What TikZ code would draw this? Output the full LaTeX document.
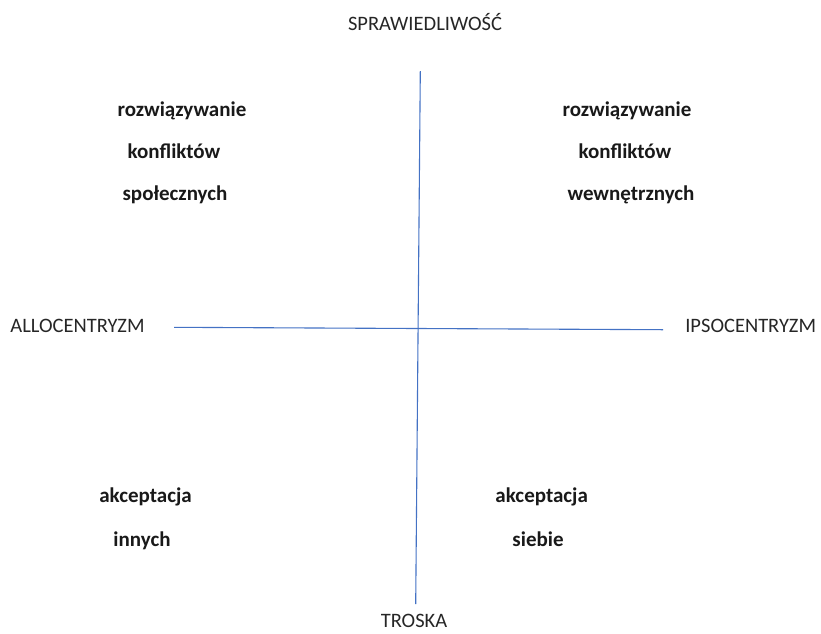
\documentclass[tikz,border=0pt]{standalone}
\usepackage{fontspec}
\setmainfont{Carlito}
\usepackage{xcolor}
\usetikzlibrary{positioning}
\definecolor{axisblue}{RGB}{68,114,196}
\definecolor{polegray}{RGB}{38,38,38}

\begin{document}
\begin{tikzpicture}[x=1pt, y=-1pt,
  axis/.style={draw=axisblue, line width=1.1pt},
  pole/.style={anchor=base, inner sep=0pt, text=polegray, font=\fontsize{20.5}{24}\selectfont},
  word/.style={anchor=base, inner sep=0pt, text=black!90, font=\bfseries\fontsize{21}{25}\selectfont}
]
\useasboundingbox (0,0) rectangle (821,633);
% axes
\coordinate (top) at (420.3,71);
\coordinate (bottom) at (415.7,604);
\coordinate (left) at (174,327.3);
\coordinate (right) at (663,329.7);
\draw[axis] (top) -- (bottom);
\draw[axis] (left) -- (right);
% poles
\node[pole] (sprawiedliwosc) at (425,30) {SPRAWIEDLIWOŚĆ};
\node[pole] (troska) at (414,627.5) {TROSKA};
\node[pole] (allo) at (77.5,332) {ALLOCENTRYZM};
\node[pole] (ipso) at (750.7,332) {IPSOCENTRYZM};
% quadrants
\node[word] (ls1) at (182,116.7) {rozwiązywanie};
\node[word] (ls2) at (174,158) {konfliktów};
\node[word] (ls3) at (175,200) {społecznych};
\node[word] (rs1) at (627,116.7) {rozwiązywanie};
\node[word] (rs2) at (625,158) {konfliktów};
\node[word] (rs3) at (631,200) {wewnętrznych};
\node[word] (la1) at (145.5,502.7) {akceptacja};
\node[word] (la2) at (142,546.7) {innych};
\node[word] (ra1) at (541.7,502.7) {akceptacja};
\node[word] (ra2) at (538,546.7) {siebie};
\end{tikzpicture}
\end{document}
